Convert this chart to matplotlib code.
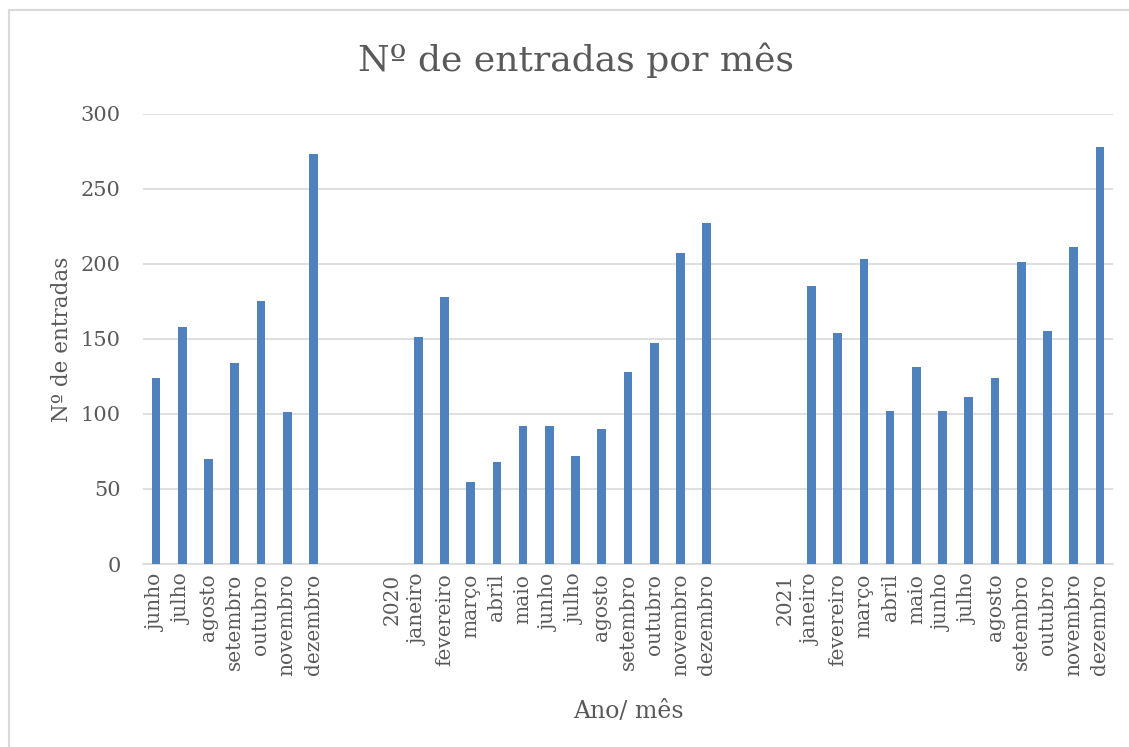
import numpy as np
import matplotlib.pyplot as plt
from matplotlib.patches import Rectangle

# categorias do eixo x (as duas posições vazias antes de cada ano existem no original)
meses_2019 = ['junho', 'julho', 'agosto', 'setembro', 'outubro', 'novembro', 'dezembro']
meses_ano = ['janeiro', 'fevereiro', 'março', 'abril', 'maio', 'junho', 'julho',
             'agosto', 'setembro', 'outubro', 'novembro', 'dezembro']

entradas_2019 = [124, 158, 70, 134, 175, 101, 273]
entradas_2020 = [151, 178, 55, 68, 92, 92, 72, 90, 128, 147, 207, 227]
entradas_2021 = [185, 154, 203, 102, 131, 102, 111, 124, 201, 155, 211, 278]

labels = meses_2019 + ['', '', '2020'] + meses_ano + ['', '', '2021'] + meses_ano
values = (entradas_2019 + [np.nan] * 3 + entradas_2020
          + [np.nan] * 3 + entradas_2021)

font = 'DejaVu Serif'
cinza = '#595959'

fig = plt.figure(figsize=(11.29, 7.47), dpi=100)
ax = fig.add_axes([143 / 1129, 1 - 564 / 747, 970 / 1129, 450 / 747])

x = np.arange(len(labels))
ax.bar(x, values, width=0.33, color='#4f81bd', zorder=3)

ax.set_xlim(-0.5, len(labels) - 0.5)
ax.set_ylim(0, 300)
ax.set_yticks(range(0, 301, 50))
ax.set_xticks(x)
ax.set_xticklabels(labels, rotation=90, fontsize=14.5, family=font, color=cinza)
for t in ax.get_yticklabels():
    t.set_fontsize(15)
    t.set_family(font)
    t.set_color(cinza)
ax.tick_params(length=0)
ax.tick_params(axis='y', pad=16)
ax.tick_params(axis='x', pad=7)
ax.grid(axis='y', color='#d9d9d9', linewidth=1.2, zorder=0)
for s in ['top', 'right', 'left']:
    ax.spines[s].set_visible(False)
ax.spines['bottom'].set_color('#d9d9d9')
ax.spines['bottom'].set_linewidth(1.2)

fig.text(576 / 1129, 1 - 60 / 747, 'Nº de entradas por mês', ha='center', va='center',
         fontsize=26, family=font, color=cinza)
fig.text(62 / 1129, 1 - 339 / 747, 'Nº de entradas', ha='center', va='center',
         rotation=90, fontsize=15.5, family=font, color=cinza)
fig.text(628 / 1129, 1 - 712 / 747, 'Ano/ mês', ha='center', va='center',
         fontsize=17, family=font, color=cinza)

fig.patches.append(Rectangle((9 / 1129, -0.1), 1.2, 1 - 10 / 747 + 0.1,
                             transform=fig.transFigure, fill=False,
                             edgecolor='#d9d9d9', linewidth=1.5))

fig.savefig('out.png', dpi=100)
